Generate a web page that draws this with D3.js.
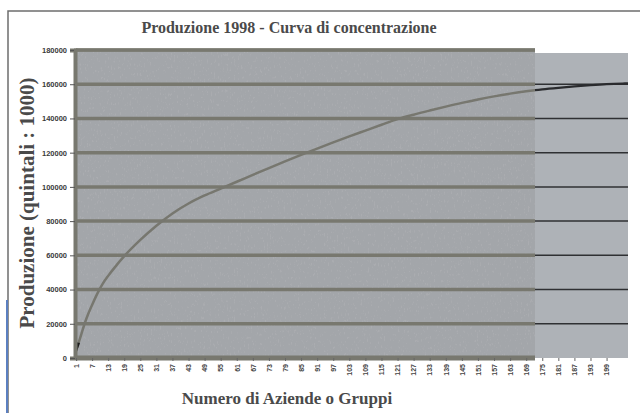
<!DOCTYPE html>
<html>
<head>
<meta charset="utf-8">
<script src="https://cdn.jsdelivr.net/npm/d3@7"></script>
<style>
	body { margin: 0; background: #fff; }
	svg { display: block; }
</style>
</head>
<body>
<script>
// rank of the firm (cumulated) and cumulated production
var ranks = [1, 2, 3, 4, 5, 7, 9, 11, 13, 16, 19, 25, 31, 37, 43, 49, 55, 61, 67, 73, 79,
	85, 91, 97, 103, 109, 115, 121, 127, 133, 139, 145, 151, 157, 163, 169, 175, 181,
	187, 193, 199, 205, 207];
var produzione = [4000, 9000, 14000, 19000, 23500, 31000, 37800, 43500, 48000, 54000, 59500,
	69000, 77300, 84500, 90300, 95000, 99000, 103000, 107000, 111000, 114900,
	118700, 122400, 126000, 129500, 132900, 136300, 139600, 142200, 144600, 146900,
	149100, 151100, 152900, 154500, 155900, 157000, 157900, 158700, 159400, 160000,
	160400, 160500];
var xTickLabels = [1, 7, 13, 19, 25, 31, 37, 43, 49, 55, 61, 67, 73, 79, 85, 91, 97,
	103, 109, 115, 121, 127, 133, 139, 145, 151, 157, 163, 169, 175, 181, 187, 193, 199];
var yTickLabels = [0, 20000, 40000, 60000, 80000, 100000, 120000, 140000, 160000, 180000];

var width = 640,
	height = 413,
	plot = { left: 76, right: 628, top: 50, bottom: 358 },
	split = 535; // the scan turns lighter from here on

var data = ranks.map(function (r, i) { return { rank: r, value: produzione[i] }; });

var x = d3.scaleLinear().domain([1, 207]).range([plot.left, plot.right]);
var y = d3.scaleLinear().domain([0, 180000]).range([plot.bottom, plot.top]);

var svg = d3.select('body').append('svg')
	.attr('width', width)
	.attr('height', height);

// grainy paper look: sparse dark speckles
var defs = svg.append('defs');
var grain = defs.append('filter').attr('id', 'grain').attr('x', 0).attr('y', 0).attr('width', 1).attr('height', 1);
grain.append('feTurbulence').attr('type', 'fractalNoise').attr('baseFrequency', '0.7 0.3').attr('numOctaves', 2).attr('seed', 4);
grain.append('feColorMatrix').attr('type', 'matrix')
	.attr('values', '0 0 0 0 0.40  0 0 0 0 0.41  0 0 0 0 0.43  8 0 0 0 -4.9');
grain.append('feComposite').attr('in2', 'SourceGraphic').attr('operator', 'in');

defs.append('clipPath').attr('id', 'clipL').append('rect')
	.attr('x', plot.left).attr('y', plot.top - 4)
	.attr('width', split - plot.left).attr('height', plot.bottom - plot.top + 8);
defs.append('clipPath').attr('id', 'clipR').append('rect')
	.attr('x', split).attr('y', plot.top - 4)
	.attr('width', plot.right - split).attr('height', plot.bottom - plot.top + 8);

// outer frame
svg.append('path')
	.attr('d', 'M8,413 V11 H640')
	.attr('fill', 'none')
	.attr('stroke', '#6d6d6d')
	.attr('stroke-width', 1.5);
svg.append('line')
	.attr('x1', 7).attr('x2', 7).attr('y1', 300).attr('y2', 413)
	.attr('stroke', '#5b7fc0').attr('stroke-width', 2);

// plot backgrounds
svg.append('rect')
	.attr('x', plot.left).attr('y', plot.top)
	.attr('width', split - plot.left).attr('height', plot.bottom - plot.top)
	.attr('fill', '#a3a6aa');
svg.append('rect')
	.attr('x', plot.left).attr('y', plot.top)
	.attr('width', split - plot.left).attr('height', plot.bottom - plot.top)
	.attr('fill', '#a3a6aa')
	.attr('filter', 'url(#grain)');
svg.append('rect')
	.attr('x', split).attr('y', plot.top + 3)
	.attr('width', plot.right - split).attr('height', plot.bottom - plot.top - 3)
	.attr('fill', '#aeb2b7');

var line = d3.line()
	.x(function (d) { return x(d.rank); })
	.y(function (d) { return y(d.value); })
	.curve(d3.curveMonotoneX);

// left part: thick grey grid and curve
var left = svg.append('g').attr('clip-path', 'url(#clipL)');
left.selectAll('.grid')
	.data(yTickLabels.slice(1))
	.enter().append('line')
	.attr('class', 'grid')
	.attr('x1', plot.left).attr('x2', split)
	.attr('y1', function (d) { return y(d); })
	.attr('y2', function (d) { return y(d); })
	.attr('stroke', '#78786f')
	.attr('stroke-width', 3.5);
left.append('path')
	.datum(data)
	.attr('d', line)
	.attr('fill', 'none')
	.attr('stroke', '#77776f')
	.attr('stroke-width', 2.5);

// right part: thin dark grid and curve
var right = svg.append('g').attr('clip-path', 'url(#clipR)');
right.selectAll('.grid')
	.data(yTickLabels.slice(1, -1))
	.enter().append('line')
	.attr('class', 'grid')
	.attr('x1', split).attr('x2', plot.right)
	.attr('y1', function (d) { return y(d); })
	.attr('y2', function (d) { return y(d); })
	.attr('stroke', '#2f3033')
	.attr('stroke-width', 1.5);
right.append('path')
	.datum(data)
	.attr('d', line)
	.attr('fill', 'none')
	.attr('stroke', '#2a2b2e')
	.attr('stroke-width', 2.2);

// start mark in the corner
svg.append('path')
	.attr('d', 'M75,357 L75,342 L80,343 Z')
	.attr('fill', '#1e1e1e');

// axes
var yAxis = svg.append('g')
	.attr('transform', 'translate(' + (plot.left - 1) + ',0)')
	.call(d3.axisLeft(y).tickValues(yTickLabels).tickSize(5).tickFormat(d3.format('d')));
yAxis.select('.domain').attr('stroke', '#78786f').attr('stroke-width', 4);
yAxis.selectAll('.tick line').attr('stroke', '#555');
yAxis.selectAll('.tick text')
	.attr('x', -8)
	.attr('fill', '#3a3a3a')
	.style('font', 'bold 7.5px "Liberation Sans", Arial, sans-serif');

var xAxis = svg.append('g')
	.attr('transform', 'translate(0,' + plot.bottom + ')')
	.call(d3.axisBottom(x).tickValues(xTickLabels).tickSize(3).tickFormat(d3.format('d')));
xAxis.select('.domain')
	.attr('d', 'M' + plot.left + ',0H' + split)
	.attr('stroke', '#78786f').attr('stroke-width', 5);
xAxis.selectAll('.tick line').attr('stroke', '#666');
xAxis.selectAll('.tick text')
	.attr('transform', 'rotate(-90)')
	.attr('x', -6).attr('y', 0).attr('dy', '0.32em')
	.attr('text-anchor', 'end')
	.attr('fill', '#444')
	.style('font', 'bold 7px "Liberation Sans", Arial, sans-serif');
// top edge of the plot
svg.append('line')
	.attr('x1', plot.left - 2).attr('x2', split)
	.attr('y1', plot.top).attr('y2', plot.top)
	.attr('stroke', '#78786f').attr('stroke-width', 3);

// titles
svg.append('text')
	.attr('x', 289).attr('y', 33)
	.attr('text-anchor', 'middle')
	.attr('fill', '#4a4a4a')
	.style('font', 'bold 16px "Liberation Serif", "DejaVu Serif", serif')
	.text('Produzione 1998 - Curva di concentrazione');

svg.append('text')
	.attr('transform', 'translate(34,203) rotate(-90)')
	.attr('text-anchor', 'middle')
	.attr('fill', '#4a4a4a')
	.style('font', 'bold 21px "Liberation Serif", "DejaVu Serif", serif')
	.text('Produzione (quintali : 1000)');

svg.append('text')
	.attr('x', 287).attr('y', 404)
	.attr('text-anchor', 'middle')
	.attr('fill', '#4a4a4a')
	.style('font', 'bold 17px "Liberation Serif", "DejaVu Serif", serif')
	.text('Numero di Aziende o Gruppi');
</script>
</body>
</html>
